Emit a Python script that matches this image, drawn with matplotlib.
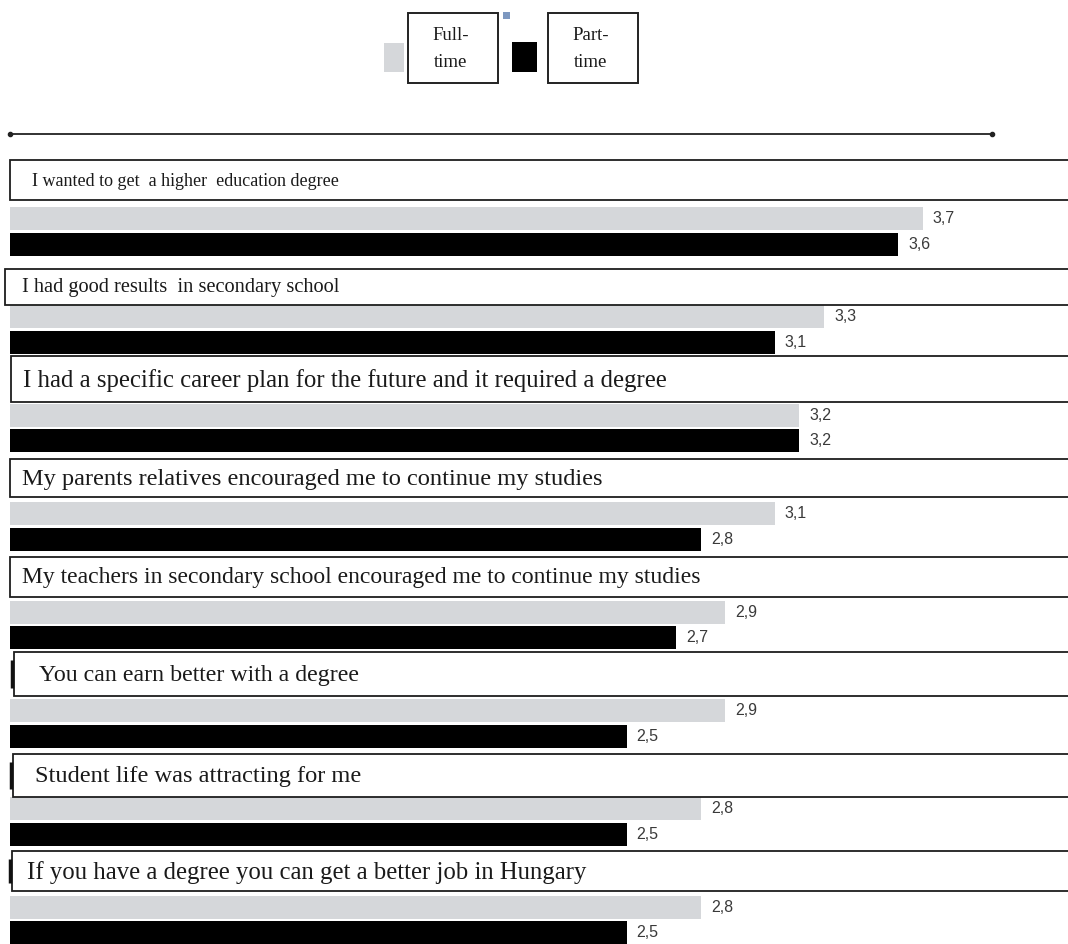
import matplotlib
matplotlib.use("Agg")
import matplotlib.pyplot as plt
from matplotlib.patches import Rectangle

# survey answers: average agreement, full-time vs part-time students
reasons = [
    "I wanted to get  a higher  education degree",
    "I had good results  in secondary school",
    "I had a specific career plan for the future and it required a degree",
    "My parents relatives encouraged me to continue my studies",
    "My teachers in secondary school encouraged me to continue my studies",
    "You can earn better with a degree",
    "Student life was attracting for me",
    "If you have a degree you can get a better job in Hungary",
]
full_time = [3.7, 3.3, 3.2, 3.1, 2.9, 2.9, 2.8, 2.8]
part_time = [3.6, 3.1, 3.2, 2.8, 2.7, 2.5, 2.5, 2.5]
series_names = ["Full-\ntime", "Part-\ntime"]

GREY = "#d5d7da"
BLACK = "#000000"
PX = 246.7          # pixels per unit on the value axis
PY = 98.4           # pixels per statement row

# statement boxes (pixel tweaks, the boxes were placed by hand)
label_sizes = [13, 14.7, 17.8, 17.6, 17, 17.2, 17.6, 17.8]
box_left = [0, -5, 1, 0, 0, 4, 3, 2]
text_left = [22, 17, 12, 12, 12, 25, 22, 15]
box_top = [-71, -61, -72, -67, -68, -71, -68, -69]
box_bot = [-31, -25, -26, -29, -28, -27, -25, -29]
side_tick = [False, False, False, False, False, True, True, True]

W, H = 1068, 944
fig = plt.figure(figsize=(W / 100, H / 100), dpi=100)
ax = fig.add_axes([0, 0, 1, 1])
ax.set_xlim(-10 / PX, (W - 10) / PX)
ax.set_ylim((H - 231.3) / PY, -231.3 / PY)
ax.axis("off")

pos = list(range(len(reasons)))
bar_h = 23 / PY
off = 12.8 / PY
ax.barh([p - off for p in pos], full_time, height=bar_h, color=GREY, zorder=2)
ax.barh([p + off for p in pos], part_time, height=bar_h, color=BLACK, zorder=2)

for p, f, t in zip(pos, full_time, part_time):
    ax.text(f + 10 / PX, p - off, f"{f:.1f}".replace(".", ","), va="center",
            ha="left", fontsize=11.5, color="#3a3a3a", family="Liberation Sans")
    ax.text(t + 10 / PX, p + off, f"{t:.1f}".replace(".", ","), va="center",
            ha="left", fontsize=11.5, color="#3a3a3a", family="Liberation Sans")

# framed statement above each pair of bars
for p, txt, fs, bl, tl, bt, bb, tick in zip(pos, reasons, label_sizes, box_left,
                                            text_left, box_top, box_bot, side_tick):
    y0 = p + bt / PY
    y1 = p + bb / PY
    ax.add_patch(Rectangle((bl / PX, y0), 4.5, y1 - y0, facecolor="white",
                           edgecolor="#1e1e1e", lw=1.3, zorder=3))
    ax.text((bl + tl) / PX, (y0 + y1) / 2 + 1 / PY, txt, va="center", ha="left",
            fontsize=fs, family="Liberation Serif", color="#1a1a1a", zorder=4)
    if tick:
        ax.plot([(bl - 2) / PX] * 2, [y0 + 8 / PY, y1 - 8 / PY], color="#111111",
                lw=2.5, zorder=4, solid_capstyle="butt")

# rule under the legend
ax.plot([0, 982 / PX], [-97 / PY, -97 / PY], color="#222222", lw=1.3)
ax.plot([0, 982 / PX], [-97 / PY, -97 / PY], "o", color="#222222", ms=3)


# legend drawn in pixel units of the figure
def frect(x, y, w, h, **kw):
    fig.patches.append(Rectangle((x / W, 1 - (y + h) / H), w / W, h / H,
                                 transform=fig.transFigure, **kw))


frect(384, 43, 20, 29, facecolor=GREY, edgecolor="none")
frect(408, 13, 90, 70, facecolor="white", edgecolor="#222222", lw=1.4)
frect(503, 12, 7, 7, facecolor="#7d98c0", edgecolor="none")
frect(512, 42, 25, 30, facecolor=BLACK, edgecolor="none")
frect(548, 13, 90, 70, facecolor="white", edgecolor="#222222", lw=1.4)
for cx, name in zip([451, 591], series_names):
    fig.text(cx / W, 1 - 49 / H, name, ha="center", va="center", fontsize=13.5,
             family="Liberation Serif", color="#1a1a1a", linespacing=1.75)

fig.savefig("out.png", dpi=100, facecolor="white")
